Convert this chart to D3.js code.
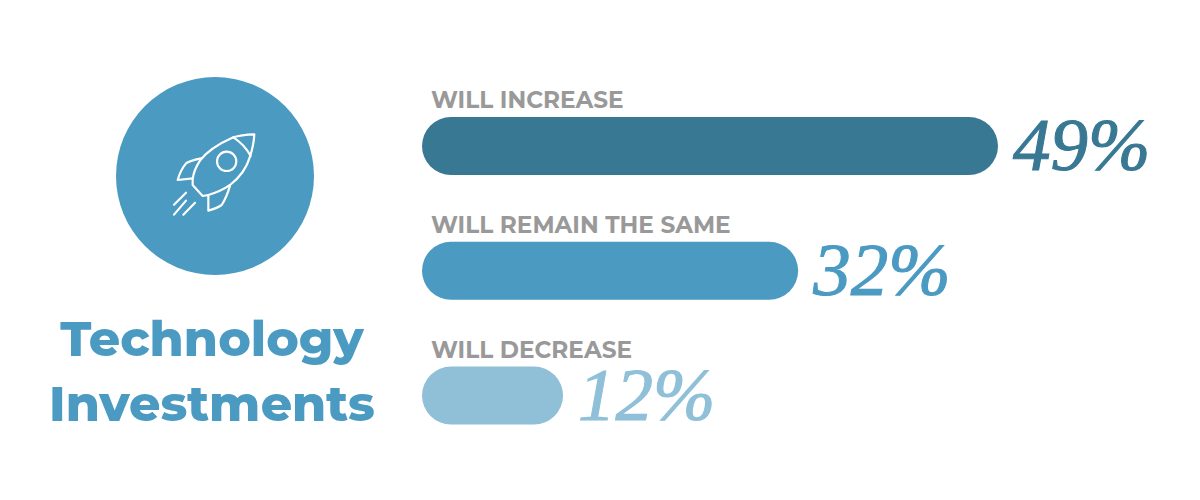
<!DOCTYPE html>
<html><head><meta charset="utf-8">
<script src="https://cdn.jsdelivr.net/npm/d3@7"></script>
<style>html,body{margin:0;padding:0;background:#fff}svg{display:block}</style>
</head><body><svg id="c" width="1200" height="500"></svg>
<script>
const categories=["WILL INCREASE","WILL REMAIN THE SAME","WILL DECREASE"];
const values=[49,32,12];
const colors=["#387893","#4a9ac2","#8fc0d8"];
const titleLines=["Technology","Investments"];
const svg=d3.select("#c");
const x=d3.scaleLinear().domain([0,49]).range([422,998]);
const bh=58;
const yTop=d3.scalePoint().domain(categories).range([117,366.5]);
svg.append("circle").attr("cx",215).attr("cy",176).attr("r",99).attr("fill","#4a9ac2");
const rocket=svg.append("g").attr("transform","translate(150,120) scale(0.3333)").attr("fill","none").attr("stroke","#fff").attr("stroke-width",6.5).attr("stroke-linecap","round").attr("stroke-linejoin","round");
rocket.append("path").attr("d","M313,43C285,44 265,47 250,52C205,72 170,95 150,122C138,140 130,160 128,178L128,195L158,228L175,225C200,218 222,208 240,195C270,172 290,145 300,110C308,85 312,65 313,43Z");
rocket.append("path").attr("d","M250,52C272,66 290,85 302,108");
rocket.append("circle").attr("cx",230).attr("cy",124).attr("r",29);
rocket.append("path").attr("d","M153,115C130,120 115,124 108,130C96,145 88,162 83,180L128,175");
rocket.append("path").attr("d","M175,226L175,272C190,268 205,262 215,255C225,240 234,218 240,197");
rocket.append("path").attr("d","M108,218L72,254M108,242L72,284M135,248L100,284");
const g=svg.selectAll("g.row").data(categories).join("g").attr("class","row");
g.append("rect").attr("x",x(0)).attr("y",d=>yTop(d)).attr("width",(d,i)=>x(values[i])-x(0)).attr("height",bh).attr("rx",29).attr("fill",(d,i)=>colors[i]);
g.append("text").attr("x",431).attr("y",d=>yTop(d)-9).attr("font-family","Montserrat,'Open Sans',Lato,sans-serif").attr("font-weight",700).attr("font-size",23.2).attr("fill","#999").text(d=>d);
g.append("text").attr("x",(d,i)=>x(values[i])+15).attr("y",d=>yTop(d)+53).attr("font-family","'Liberation Serif',serif").attr("font-style","italic").attr("font-size",75).attr("stroke-width",1.1).attr("fill",(d,i)=>colors[i]).attr("stroke",(d,i)=>colors[i]).text((d,i)=>values[i]+"%");
svg.selectAll("text.t").data(titleLines).join("text").attr("class","t").attr("x",212).attr("y",(d,i)=>356+i*65).attr("text-anchor","middle").attr("font-family","Montserrat,Lato,sans-serif").attr("font-weight",800).attr("font-size",49).attr("fill","#4a9ac2").text(d=>d);
</script></body></html>
